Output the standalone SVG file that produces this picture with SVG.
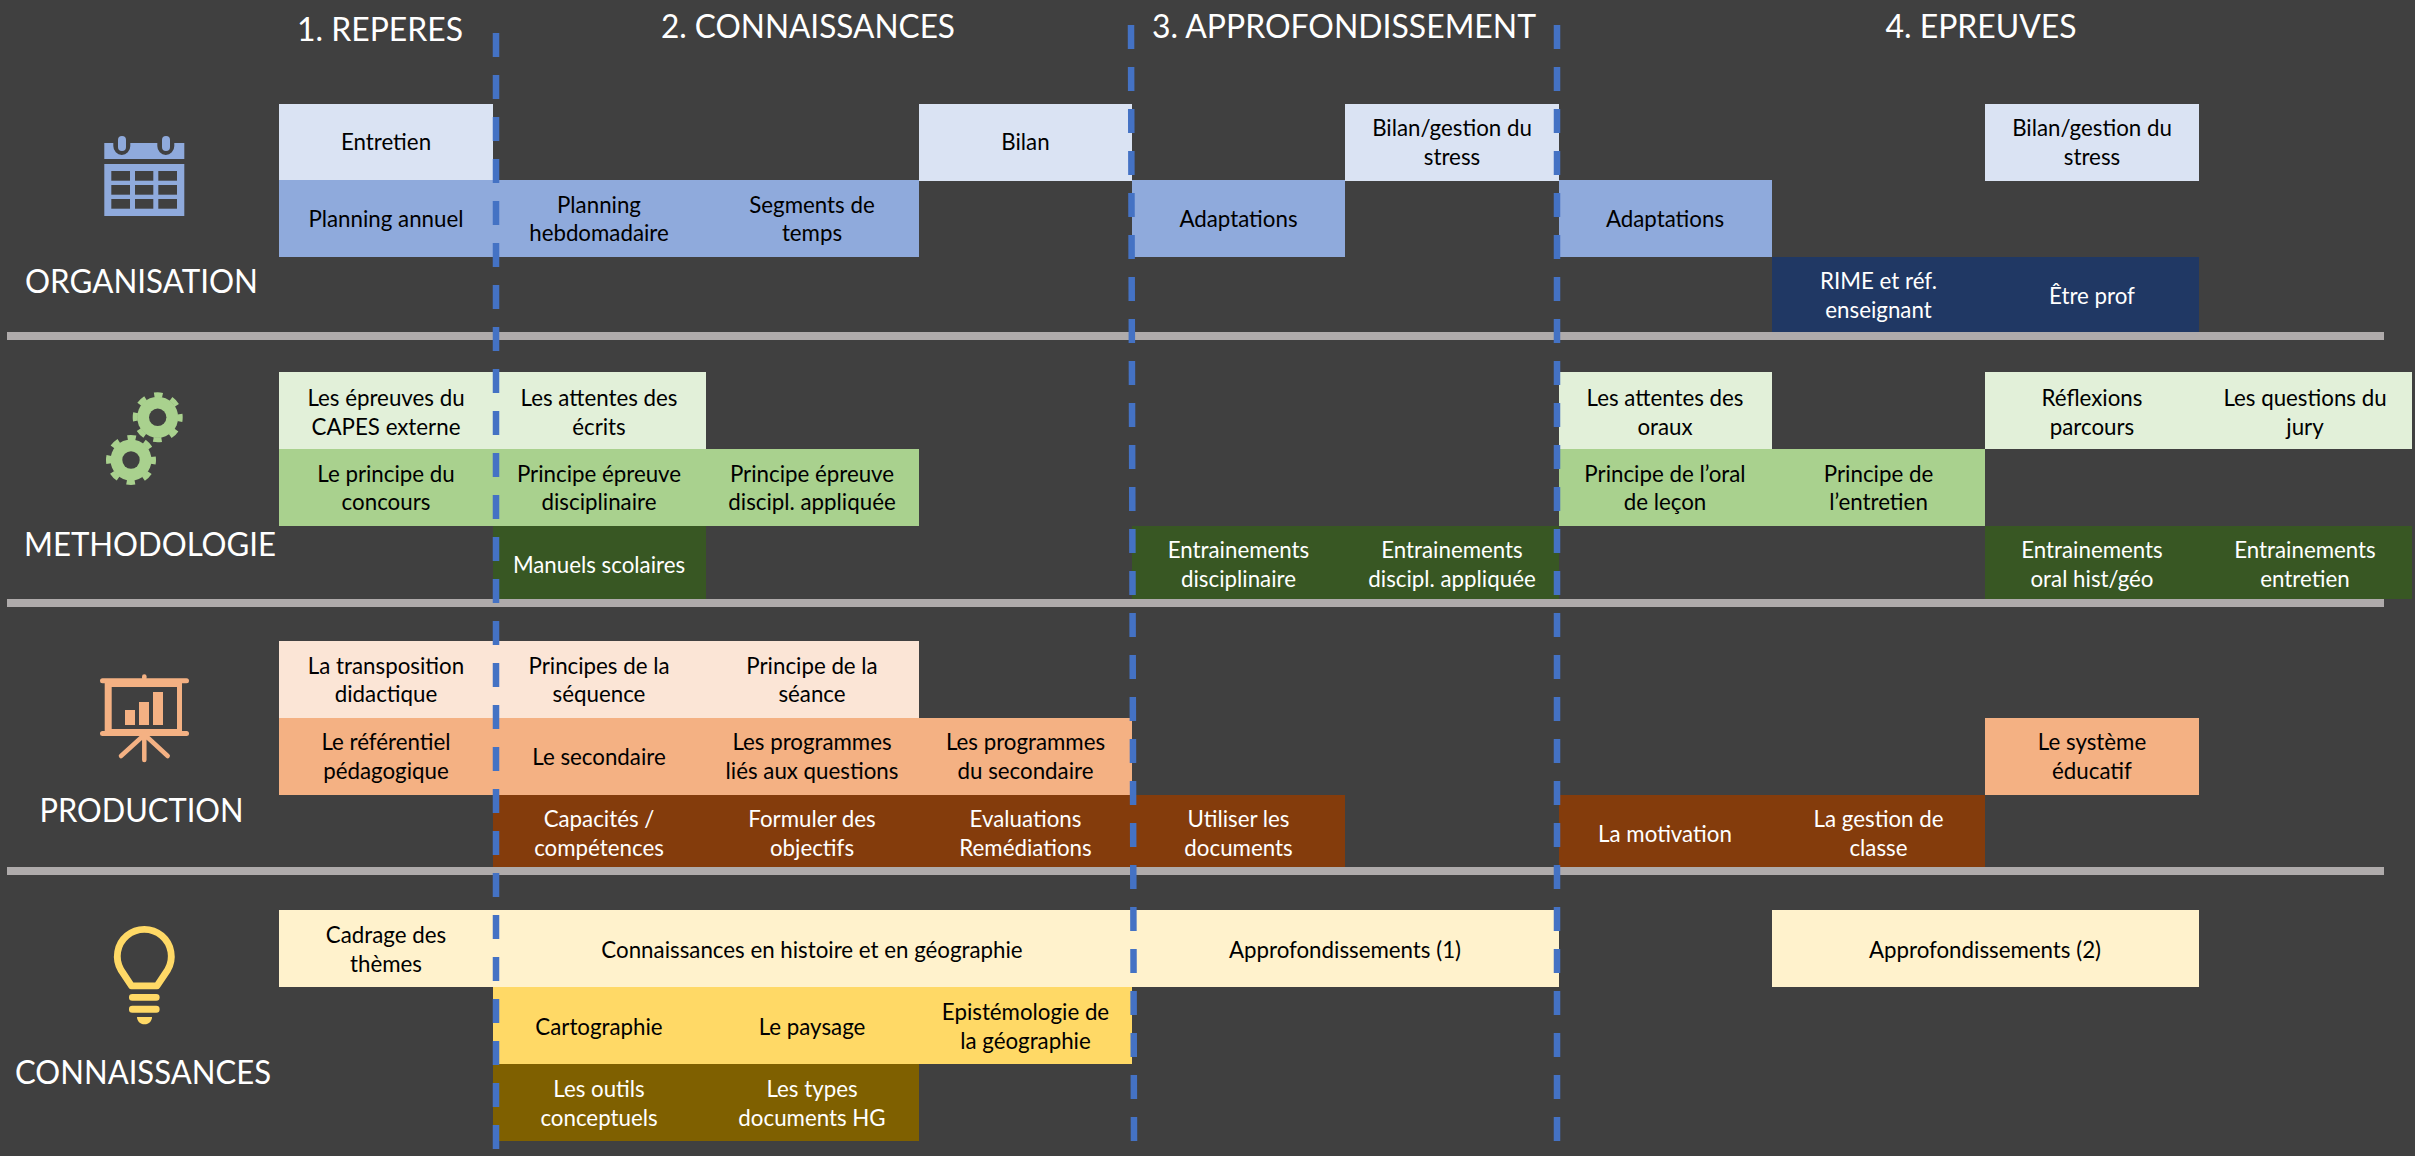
<svg xmlns="http://www.w3.org/2000/svg" xmlns:xlink="http://www.w3.org/1999/xlink" width="2415" height="1156" viewBox="0 0 2415 1156">
<style>
text{font-family:"Lato","Liberation Sans",sans-serif;text-anchor:middle}
.t{font-size:22.3px;fill:#000}
.w{font-size:22.3px;fill:#fff}
.h{font-size:33px;fill:#fff}
.b1{fill:#DAE3F3}.b2{fill:#8FAADC}.b3{fill:#203864}
.g1{fill:#E2F0D9}.g2{fill:#A9D18E}.g3{fill:#385723}
.o1{fill:#FBE5D6}.o2{fill:#F4B183}.o3{fill:#843C0C}
.y1{fill:#FFF2CC}.y2{fill:#FFD966}.y3{fill:#7F6000}
.sep{fill:#AFABAB}
.dash{stroke:#4472C4;stroke-width:6.5;stroke-dasharray:24 18;fill:none}
.cell{fill:#404040}
</style>
<defs>
<g id="gear"><circle r="20.5" fill="#A9D18E"/><circle r="22.5" fill="none" stroke="#A9D18E" stroke-width="5" stroke-dasharray="8.5 9.17" stroke-dashoffset="4.25"/><circle r="8.7" fill="#404040"/></g>
</defs>
<rect width="2415" height="1156" fill="#404040"/>

<g id="separators">
<rect class="sep" x="7" y="332" width="2377" height="8"/>
<rect class="sep" x="7" y="599" width="2377" height="8"/>
<rect class="sep" x="7" y="867" width="2377" height="8"/>
</g>

<g id="titles">
<text class="h" x="380" y="41" textLength="166" lengthAdjust="spacingAndGlyphs">1. REPERES</text>
<text class="h" x="808" y="38" textLength="294" lengthAdjust="spacingAndGlyphs">2. CONNAISSANCES</text>
<text class="h" x="1344" y="38" textLength="384" lengthAdjust="spacingAndGlyphs">3. APPROFONDISSEMENT</text>
<text class="h" x="1981" y="38" textLength="191" lengthAdjust="spacingAndGlyphs">4. EPREUVES</text>
</g>

<g id="cat-organisation">
<path fill="#8FAADC" d="M104.3 143h9v3a8.5 9 0 0 0 17 0v-3h27v3a8.5 9 0 0 0 17 0v-3h10v16h-80z"/>
<rect x="118" y="136" width="8" height="15" rx="4" fill="#8FAADC"/><rect x="162" y="136" width="8" height="15" rx="4" fill="#8FAADC"/>
<rect x="104.3" y="164" width="80" height="52" fill="#8FAADC"/>
<g class="cell"><rect x="111.3" y="171" width="18.7" height="9.7"/><rect x="135" y="171" width="18.3" height="9.7"/><rect x="158.3" y="171" width="18.7" height="9.7"/><rect x="111.3" y="185" width="18.7" height="9.7"/><rect x="135" y="185" width="18.3" height="9.7"/><rect x="158.3" y="185" width="18.7" height="9.7"/><rect x="111.3" y="199" width="18.7" height="9.7"/><rect x="135" y="199" width="18.3" height="9.7"/><rect x="158.3" y="199" width="18.7" height="9.7"/></g>
<text class="h" x="141.5" y="293" textLength="233" lengthAdjust="spacingAndGlyphs">ORGANISATION</text>
</g>

<g id="cat-methodologie">
<use xlink:href="#gear" x="157.7" y="417.3"/>
<use xlink:href="#gear" x="131" y="460"/>
<text class="h" x="150" y="556" textLength="252" lengthAdjust="spacingAndGlyphs">METHODOLOGIE</text>
</g>

<g id="cat-production">
<g fill="#F4B183">
<rect x="100" y="678.3" width="89" height="5" rx="2.5"/><rect x="142" y="674.3" width="4.6" height="6" rx="2.3"/>
<path fill-rule="evenodd" d="M104.7 680h77.3v53h-77.3zM111.7 687v42h65.3v-42z"/>
<rect x="100" y="731" width="89" height="5" rx="2.5"/>
<rect x="125" y="710" width="10" height="15"/><rect x="139" y="702" width="10" height="23"/><rect x="153" y="692" width="10" height="33"/>
</g>
<path d="M144.3 733V760M143 736L121 756M146 736L167.7 756" stroke="#F4B183" stroke-width="4.5" stroke-linecap="round" fill="none"/>
<text class="h" x="141.5" y="822" textLength="204" lengthAdjust="spacingAndGlyphs">PRODUCTION</text>
</g>

<g id="cat-connaissances">
<path d="M131.5 985.8L121 970A27 27 0 1 1 167.6 970L157 985.8Z" fill="none" stroke="#FFD966" stroke-width="6.8" stroke-linejoin="round"/>
<rect x="129" y="994" width="30.6" height="6.7" rx="3.3" fill="#FFD966"/>
<rect x="129" y="1005.7" width="30.6" height="7" rx="3.3" fill="#FFD966"/>
<path d="M137 1017h15c0 4-3 7.3-7.5 7.3s-7.500-3.300-7.500-7.300z" fill="#FFD966"/>
<text class="h" x="143" y="1084" textLength="256" lengthAdjust="spacingAndGlyphs">CONNAISSANCES</text>
</g>

<g id="n-entretien"><rect class="b1" x="279" y="104" width="214" height="77"/><text class="t" x="386" y="150">Entretien</text></g>
<g id="n-bilan"><rect class="b1" x="919" y="104" width="213" height="77"/><text class="t" x="1025.5" y="150">Bilan</text></g>
<g id="n-bilan-stress-1"><rect class="b1" x="1345" y="104" width="214" height="77"/><text class="t" x="1452" y="136">Bilan/gestion du</text><text class="t" x="1452" y="165">stress</text></g>
<g id="n-bilan-stress-2"><rect class="b1" x="1985" y="104" width="214" height="77"/><text class="t" x="2092" y="136">Bilan/gestion du</text><text class="t" x="2092" y="165">stress</text></g>
<g id="n-planning-annuel"><rect class="b2" x="279" y="180" width="214" height="77"/><text class="t" x="386" y="226.5">Planning annuel</text></g>
<g id="n-planning-hebdo"><rect class="b2" x="493" y="180" width="213" height="77"/><text class="t" x="599" y="213">Planning</text><text class="t" x="599" y="241">hebdomadaire</text></g>
<g id="n-segments"><rect class="b2" x="706" y="180" width="213" height="77"/><text class="t" x="812" y="213">Segments de</text><text class="t" x="812" y="241">temps</text></g>
<g id="n-adaptations-1"><rect class="b2" x="1132" y="180" width="213" height="77"/><text class="t" x="1238.5" y="226.5">Adaptations</text></g>
<g id="n-adaptations-2"><rect class="b2" x="1559" y="180" width="213" height="77"/><text class="t" x="1665" y="226.5">Adaptations</text></g>
<g id="n-rime"><rect class="b3" x="1772" y="257" width="213" height="75"/><text class="w" x="1878.5" y="289">RIME et réf.</text><text class="w" x="1878.5" y="318">enseignant</text></g>
<g id="n-etre-prof"><rect class="b3" x="1985" y="257" width="214" height="75"/><text class="w" x="2092" y="304">Être prof</text></g>

<g id="n-epreuves"><rect class="g1" x="279" y="372" width="214" height="77"/><text class="t" x="386" y="406">Les épreuves du</text><text class="t" x="386" y="435">CAPES externe</text></g>
<g id="n-attentes-ecrits"><rect class="g1" x="493" y="372" width="213" height="77"/><text class="t" x="599" y="406">Les attentes des</text><text class="t" x="599" y="435">écrits</text></g>
<g id="n-attentes-oraux"><rect class="g1" x="1559" y="372" width="213" height="77"/><text class="t" x="1665" y="406">Les attentes des</text><text class="t" x="1665" y="435">oraux</text></g>
<g id="n-reflexions"><rect class="g1" x="1985" y="372" width="214" height="77"/><text class="t" x="2092" y="406">Réflexions</text><text class="t" x="2092" y="435">parcours</text></g>
<g id="n-questions"><rect class="g1" x="2199" y="372" width="213" height="77"/><text class="t" x="2305" y="406">Les questions du</text><text class="t" x="2305" y="435">jury</text></g>
<g id="n-principe-concours"><rect class="g2" x="279" y="449" width="214" height="77"/><text class="t" x="386" y="482">Le principe du</text><text class="t" x="386" y="510">concours</text></g>
<g id="n-principe-disc"><rect class="g2" x="493" y="449" width="213" height="77"/><text class="t" x="599" y="482">Principe épreuve</text><text class="t" x="599" y="510">disciplinaire</text></g>
<g id="n-principe-appl"><rect class="g2" x="706" y="449" width="213" height="77"/><text class="t" x="812" y="482">Principe épreuve</text><text class="t" x="812" y="510">discipl. appliquée</text></g>
<g id="n-principe-oral"><rect class="g2" x="1559" y="449" width="213" height="77"/><text class="t" x="1665" y="482">Principe de l’oral</text><text class="t" x="1665" y="510">de leçon</text></g>
<g id="n-principe-entretien"><rect class="g2" x="1772" y="449" width="213" height="77"/><text class="t" x="1878.5" y="482">Principe de</text><text class="t" x="1878.5" y="510">l’entretien</text></g>
<g id="n-manuels"><rect class="g3" x="493" y="526" width="213" height="73"/><text class="w" x="599" y="573">Manuels scolaires</text></g>
<g id="n-entr-disc"><rect class="g3" x="1132" y="526" width="213" height="73"/><text class="w" x="1238.5" y="558">Entrainements</text><text class="w" x="1238.5" y="587">disciplinaire</text></g>
<g id="n-entr-appl"><rect class="g3" x="1345" y="526" width="214" height="73"/><text class="w" x="1452" y="558">Entrainements</text><text class="w" x="1452" y="587">discipl. appliquée</text></g>
<g id="n-entr-oral"><rect class="g3" x="1985" y="526" width="214" height="73"/><text class="w" x="2092" y="558">Entrainements</text><text class="w" x="2092" y="587">oral hist/géo</text></g>
<g id="n-entr-entretien"><rect class="g3" x="2199" y="526" width="213" height="73"/><text class="w" x="2305" y="558">Entrainements</text><text class="w" x="2305" y="587">entretien</text></g>

<g id="n-transposition"><rect class="o1" x="279" y="641" width="214" height="77"/><text class="t" x="386" y="674">La transposition</text><text class="t" x="386" y="702">didactique</text></g>
<g id="n-sequence"><rect class="o1" x="493" y="641" width="213" height="77"/><text class="t" x="599" y="674">Principes de la</text><text class="t" x="599" y="702">séquence</text></g>
<g id="n-seance"><rect class="o1" x="706" y="641" width="213" height="77"/><text class="t" x="812" y="674">Principe de la</text><text class="t" x="812" y="702">séance</text></g>
<g id="n-referentiel"><rect class="o2" x="279" y="718" width="214" height="77"/><text class="t" x="386" y="750">Le référentiel</text><text class="t" x="386" y="779">pédagogique</text></g>
<g id="n-secondaire"><rect class="o2" x="493" y="718" width="213" height="77"/><text class="t" x="599" y="765">Le secondaire</text></g>
<g id="n-prog-questions"><rect class="o2" x="706" y="718" width="213" height="77"/><text class="t" x="812" y="750">Les programmes</text><text class="t" x="812" y="779">liés aux questions</text></g>
<g id="n-prog-secondaire"><rect class="o2" x="919" y="718" width="213" height="77"/><text class="t" x="1025.5" y="750">Les programmes</text><text class="t" x="1025.5" y="779">du secondaire</text></g>
<g id="n-systeme"><rect class="o2" x="1985" y="718" width="214" height="77"/><text class="t" x="2092" y="750">Le système</text><text class="t" x="2092" y="779">éducatif</text></g>
<g id="n-capacites"><rect class="o3" x="493" y="795" width="213" height="72"/><text class="w" x="599" y="827">Capacités /</text><text class="w" x="599" y="856">compétences</text></g>
<g id="n-objectifs"><rect class="o3" x="706" y="795" width="213" height="72"/><text class="w" x="812" y="827">Formuler des</text><text class="w" x="812" y="856">objectifs</text></g>
<g id="n-evaluations"><rect class="o3" x="919" y="795" width="213" height="72"/><text class="w" x="1025.5" y="827">Evaluations</text><text class="w" x="1025.5" y="856">Remédiations</text></g>
<g id="n-documents"><rect class="o3" x="1132" y="795" width="213" height="72"/><text class="w" x="1238.5" y="827">Utiliser les</text><text class="w" x="1238.5" y="856">documents</text></g>
<g id="n-motivation"><rect class="o3" x="1559" y="795" width="213" height="72"/><text class="w" x="1665" y="842">La motivation</text></g>
<g id="n-gestion-classe"><rect class="o3" x="1772" y="795" width="213" height="72"/><text class="w" x="1878.5" y="827">La gestion de</text><text class="w" x="1878.5" y="856">classe</text></g>

<g id="n-cadrage"><rect class="y1" x="279" y="910" width="214" height="77"/><text class="t" x="386" y="943">Cadrage des</text><text class="t" x="386" y="972">thèmes</text></g>
<g id="n-connaissances-hg"><rect class="y1" x="493" y="910" width="639" height="77"/><text class="t" x="812" y="958">Connaissances en histoire et en géographie</text></g>
<g id="n-appro-1"><rect class="y1" x="1132" y="910" width="427" height="77"/><text class="t" x="1345" y="958">Approfondissements (1)</text></g>
<g id="n-appro-2"><rect class="y1" x="1772" y="910" width="427" height="77"/><text class="t" x="1985" y="958">Approfondissements (2)</text></g>
<g id="n-cartographie"><rect class="y2" x="493" y="987" width="213" height="77"/><text class="t" x="599" y="1035">Cartographie</text></g>
<g id="n-paysage"><rect class="y2" x="706" y="987" width="213" height="77"/><text class="t" x="812" y="1035">Le paysage</text></g>
<g id="n-epistemologie"><rect class="y2" x="919" y="987" width="213" height="77"/><text class="t" x="1025.5" y="1020">Epistémologie de</text><text class="t" x="1025.5" y="1049">la géographie</text></g>
<g id="n-outils"><rect class="y3" x="493" y="1064" width="213" height="77"/><text class="w" x="599" y="1097">Les outils</text><text class="w" x="599" y="1126">conceptuels</text></g>
<g id="n-types"><rect class="y3" x="706" y="1064" width="213" height="77"/><text class="w" x="812" y="1097">Les types</text><text class="w" x="812" y="1126">documents HG</text></g>

<g id="connectors">
<line class="dash" x1="496" y1="33" x2="496" y2="1149"/>
<line class="dash" x1="1131" y1="25" x2="1134" y2="1142"/>
<line class="dash" x1="1557" y1="25" x2="1557" y2="1142"/>
</g>
</svg>
